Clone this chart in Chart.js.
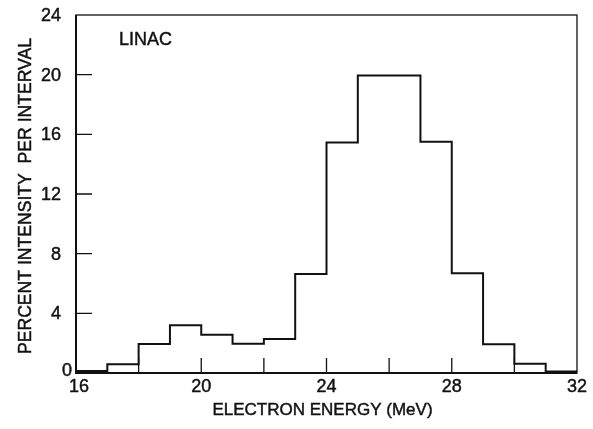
<!DOCTYPE html>
<html>
<head>
<meta charset="utf-8">
<script src="https://cdn.jsdelivr.net/npm/chart.js@4.4.1/dist/chart.umd.min.js"></script>
<style>
  html, body { margin: 0; padding: 0; background: #fff; }
  #wrap { width: 593px; height: 429px; position: relative; }
</style>
</head>
<body>
<div id="wrap"><canvas id="c" width="593" height="429"></canvas></div>
<script>
// Bin left edges (MeV) and percent intensity per 1-MeV interval
const binEdges = [16, 17, 18, 19, 20, 21, 22, 23, 24, 25, 26, 27, 28, 29, 30, 31, 32];
const intensity = [0.13, 0.58, 1.94, 3.2, 2.57, 1.96, 2.28, 6.64, 15.46, 19.95, 19.95, 15.5, 6.68, 1.92, 0.62, 0.1];
const xTickValues = [16, 18, 20, 22, 24, 26, 28, 30, 32];
const xTickLabels = ['16', '', '20', '', '24', '', '28', '', '32'];
const yTickValues = [0, 4, 8, 12, 16, 20, 24];
const yTickLabels = ['0', '4', '8', '12', '16', '20', '24'];
const xTitle = 'ELECTRON ENERGY (MeV)';
const yTitle = 'PERCENT INTENSITY  PER INTERVAL';
const panelLabel = 'LINAC';

// Build stepped points: value i applies on [edge i, edge i+1]
const pts = [];
for (let i = 0; i < intensity.length; i++) pts.push({x: binEdges[i], y: intensity[i]});
pts.push({x: binEdges[binEdges.length - 1], y: intensity[intensity.length - 1]});
pts.push({x: binEdges[binEdges.length - 1], y: 0});

const FONT = '"Liberation Sans", Arial, Helvetica, sans-serif';

function heavyText(ctx, txt, x, y) {
  ctx.fillText(txt, x, y);
  ctx.lineWidth = 0.45;
  ctx.strokeText(txt, x, y);
}

const framePlugin = {
  id: 'frame',
  afterDatasetsDraw(chart) {
    const {ctx, chartArea: a, scales: {x, y}} = chart;
    ctx.save();
    ctx.strokeStyle = '#111';
    // frame
    ctx.lineWidth = 1.3;
    ctx.strokeRect(a.left, a.top, a.right - a.left, a.bottom - a.top);
    // heavier bottom/left axis
    ctx.lineWidth = 2;
    ctx.beginPath();
    ctx.moveTo(a.left, a.top); ctx.lineTo(a.left, a.bottom); ctx.lineTo(a.right, a.bottom);
    ctx.stroke();
    // inward ticks
    ctx.lineWidth = 1.3;
    ctx.beginPath();
    xTickValues.forEach(v => {
      if (v === x.min || v === x.max) return;
      const px = x.getPixelForValue(v);
      ctx.moveTo(px, a.bottom); ctx.lineTo(px, a.bottom - 15);
    });
    yTickValues.forEach(v => {
      if (v === y.min || v === y.max) return;
      const py = y.getPixelForValue(v);
      ctx.moveTo(a.left, py); ctx.lineTo(a.left + 16, py);
    });
    ctx.stroke();

    ctx.fillStyle = '#111';
    ctx.strokeStyle = '#111';
    // y tick labels
    ctx.font = '18px ' + FONT;
    ctx.textBaseline = 'middle';
    yTickValues.forEach((v, i) => {
      const py = y.getPixelForValue(v);
      if (v === 0) {
        ctx.textAlign = 'left';
        heavyText(ctx, yTickLabels[i], a.left - 14, py - 2);
      } else {
        ctx.textAlign = 'right';
        heavyText(ctx, yTickLabels[i], a.left - 15, py + 1);
      }
    });
    // x tick labels
    ctx.textAlign = 'center';
    ctx.textBaseline = 'top';
    xTickValues.forEach((v, i) => {
      if (!xTickLabels[i]) return;
      let px = x.getPixelForValue(v);
      if (v === x.min) px += 3;
      heavyText(ctx, xTickLabels[i], px, a.bottom + 5);
    });
    // titles
    ctx.textBaseline = 'middle';
    ctx.font = '17px ' + FONT;
    heavyText(ctx, xTitle, (a.left + a.right) / 2 - 4, 410);
    ctx.save();
    ctx.translate(26, 196);
    ctx.rotate(-Math.PI / 2);
    ctx.font = '17.6px ' + FONT;
    heavyText(ctx, yTitle, 0, 0);
    ctx.restore();
    ctx.textAlign = 'left';
    ctx.font = '18px ' + FONT;
    heavyText(ctx, panelLabel, 119, 40);
    ctx.restore();
  }
};

new Chart(document.getElementById('c'), {
  type: 'line',
  data: {
    datasets: [{
      data: pts,
      stepped: 'before',
      borderColor: '#111',
      borderWidth: 2,
      pointRadius: 0,
      fill: false,
      tension: 0
    }]
  },
  options: {
    responsive: false,
    animation: false,
    events: [],
    layout: { padding: { left: 0, right: 16, top: 15, bottom: 0 } },
    plugins: { legend: { display: false }, tooltip: { enabled: false } },
    scales: {
      x: {
        type: 'linear',
        min: 16, max: 32,
        afterBuildTicks(s) { s.ticks = xTickValues.map(v => ({value: v})); },
        afterFit(s) { s.height = 56; },
        grid: { display: false, drawTicks: false },
        border: { display: false },
        ticks: { display: false }
      },
      y: {
        min: 0, max: 24,
        afterBuildTicks(s) { s.ticks = yTickValues.map(v => ({value: v})); },
        afterFit(s) { s.width = 76; },
        grid: { display: false, drawTicks: false },
        border: { display: false },
        ticks: { display: false }
      }
    }
  },
  plugins: [framePlugin]
});
</script>
</body>
</html>
